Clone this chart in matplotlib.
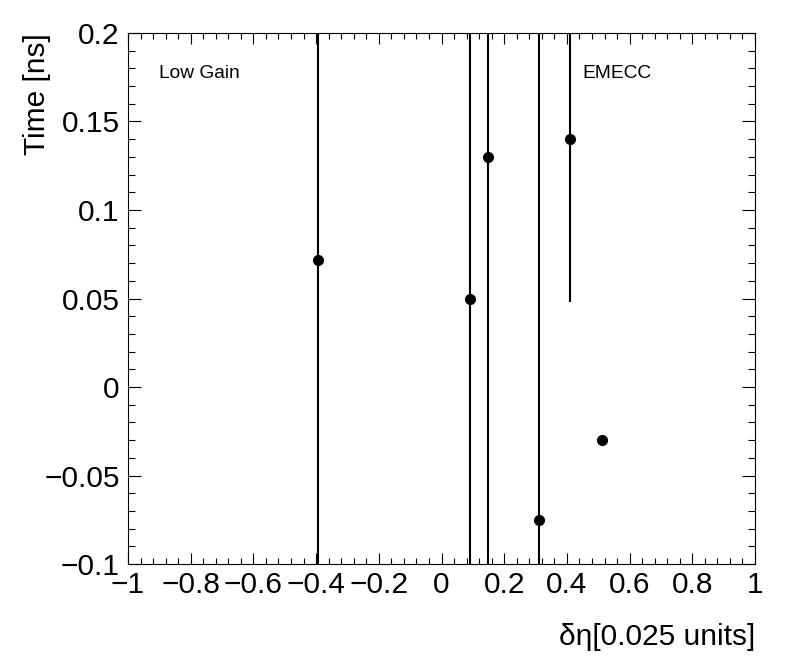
import numpy as np
import matplotlib.pyplot as plt
from matplotlib.ticker import MultipleLocator, FuncFormatter

plt.rcParams["font.family"] = ["Liberation Sans", "DejaVu Sans"]

# values
deta = [-0.394, 0.091, 0.148, 0.311, 0.410, 0.512]
time_ns = [0.072, 0.050, 0.130, -0.075, 0.140, -0.030]
time_err = [0.40, 0.40, 0.40, 0.40, 0.092, 0.002]

fig = plt.figure(figsize=(7.96, 6.72), dpi=100)
ax = fig.add_axes([0.1608, 0.1607, 0.7877, 0.7902])

ax.errorbar(deta, time_ns, yerr=time_err, fmt="o", color="black",
            markersize=7, elinewidth=1.5, capsize=0)

ax.set_xlim(-1, 1)
ax.set_ylim(-0.1, 0.2)


def root_fmt(v, _):
    v = round(v, 6)
    if v == 0:
        return "0"
    return ("%g" % v).replace("-", "\u2212")


ax.xaxis.set_major_locator(MultipleLocator(0.2))
ax.xaxis.set_minor_locator(MultipleLocator(0.04))
ax.yaxis.set_major_locator(MultipleLocator(0.05))
ax.yaxis.set_minor_locator(MultipleLocator(0.01))
ax.xaxis.set_major_formatter(FuncFormatter(root_fmt))
ax.yaxis.set_major_formatter(FuncFormatter(root_fmt))

ax.tick_params(which="both", direction="in", top=True, right=True,
               width=0.8, labelsize=21.5)
ax.tick_params(axis="x", which="major", length=8, pad=5)
ax.tick_params(axis="x", which="minor", length=4)
ax.tick_params(axis="y", which="major", length=9.5, pad=6)
ax.tick_params(axis="y", which="minor", length=4.7)
for sp in ax.spines.values():
    sp.set_linewidth(0.8)

ax.set_xlabel("\u03b4\u03b7[0.025 units]", fontsize=21.5, loc="right")
ax.xaxis.set_label_coords(1.0, -0.1375)
ax.xaxis.label.set_va("center")

ax.set_ylabel("Time [ns]", fontsize=21.5, loc="top")
ax.yaxis.set_label_coords(-0.145, 1.0)
ax.yaxis.label.set_va("center")

ax.text(0.0494, 0.9228, "Low Gain", transform=ax.transAxes,
        fontsize=13.8, va="center", ha="left")
ax.text(0.724, 0.9228, "EMECC", transform=ax.transAxes,
        fontsize=13.8, va="center", ha="left")

fig.savefig("out.png", dpi=100)
